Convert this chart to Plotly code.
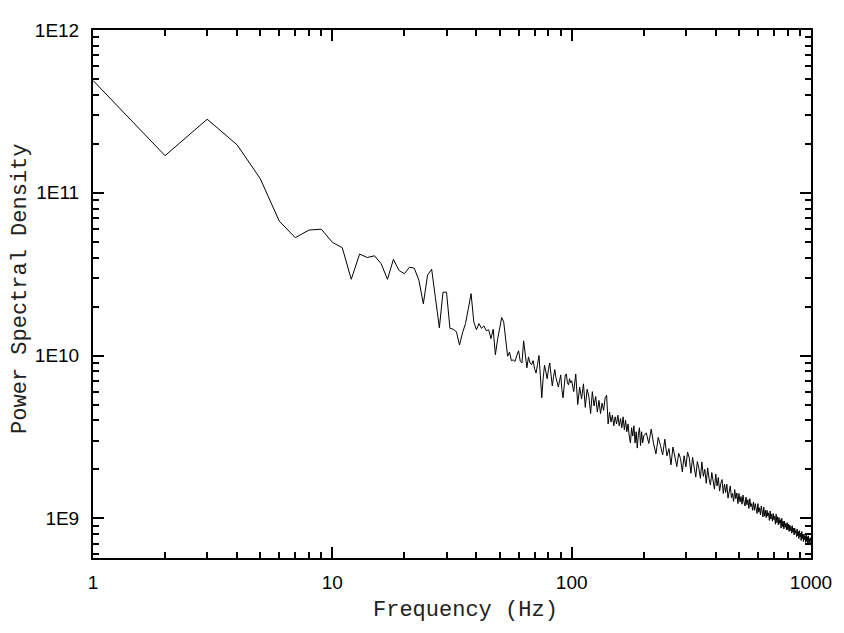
import plotly.graph_objects as go

# frequency grid (Hz)
freq_low = list(range(1, 101))
freq_mid = list(range(102, 201, 2))
freq_high = list(range(205, 1001, 5))

# PSD, 1..100 Hz
psd_low = [
    4.9e11, 1.69e11, 2.83e11, 1.97e11, 1.22e11, 6.7e10, 5.3e10, 5.9e10, 5.97e10, 4.96e10,
    4.6e10, 2.94e10, 4.2e10, 4.0e10, 4.1e10, 3.66e10, 2.94e10, 3.9e10, 3.33e10, 3.18e10,
    3.49e10, 3.44e10, 2.9e10, 2.08e10, 3.12e10, 3.39e10, 2.23e10, 1.48e10, 2.45e10, 2.45e10,
    1.47e10, 1.45e10, 1.4e10, 1.16e10, 1.38e10, 1.57e10, 1.94e10, 2.4e10, 1.61e10, 1.44e10,
    1.57e10, 1.47e10, 1.52e10, 1.42e10, 1.44e10, 1.27e10, 1.45e10, 1.01e10, 1.25e10, 1.45e10,
    1.71e10, 1.61e10, 1.27e10, 9.9e9, 1.05e10, 9.3e9, 9.4e9, 9.2e9, 1.0e10, 1.07e10,
    9.2e9, 9.0e9, 1.23e10, 1.05e10, 8.4e9, 9.8e9, 9.0e9, 8.8e9, 9.3e9, 8.3e9,
    7.8e9, 8.8e9, 1.0e10, 7.5e9, 5.5e9, 7.2e9, 8.7e9, 8.0e9, 7.2e9, 8.2e9,
    9.0e9, 7.6e9, 6.5e9, 7.4e9, 8.2e9, 7.3e9, 6.8e9, 6.4e9, 7.0e9, 7.6e9,
    6.2e9, 5.5e9, 6.4e9, 7.6e9, 7.7e9, 6.8e9, 6.6e9, 7.2e9, 6.8e9, 7.0e9,
]

# 102..200 Hz, step 2 (units of 1e9)
psd_mid_e9 = [
    6.0, 7.7, 5.0, 6.4, 5.4, 6.7, 4.8, 6.2, 5.6, 4.4,
    6.0, 4.9, 5.6, 4.5, 5.3, 4.4, 5.1, 4.6, 5.5, 5.7,
    3.8, 4.5, 3.9, 4.3, 3.7, 4.2, 3.8, 4.3, 3.7, 4.1,
    3.6, 4.2, 3.5, 4.0, 3.4, 3.8, 3.2, 2.9, 3.6, 3.2,
    3.7, 2.9, 3.4, 2.7, 3.3, 3.6, 2.8, 3.4, 2.9, 3.2,
]

# 205..1000 Hz, step 5 (units of 1e9)
psd_high_e9 = [
    3.35, 2.88, 3.53, 2.86, 2.49, 3.14, 2.8, 2.45, 3.06, 2.42,
    2.68, 2.13, 2.74, 2.33, 2.08, 2.51, 2.33, 1.93, 2.42, 2.07,
    2.55, 2.35, 1.89, 2.37, 2.0, 1.79, 2.23, 2.03, 1.76, 2.22,
    1.81, 2.0, 1.64, 2.04, 1.75, 1.6, 1.91, 1.7, 1.51, 1.87,
    1.58, 1.78, 1.47, 1.64, 1.73, 1.42, 1.62, 1.44, 1.62, 1.33,
    1.51, 1.58, 1.34, 1.42, 1.27, 1.5, 1.32, 1.43, 1.23, 1.42,
    1.26, 1.36, 1.22, 1.39, 1.26, 1.19, 1.35, 1.21, 1.3, 1.15,
    1.32, 1.18, 1.23, 1.12, 1.26, 1.12, 1.23, 1.14, 1.07, 1.23,
    1.09, 1.16, 1.05, 1.19, 1.1, 1.02, 1.17, 1.03, 1.12, 1.01,
    1.12, 1.03, 1.08, 0.97, 1.11, 0.99, 1.06, 0.96, 1.07, 0.98,
    1.03, 0.92, 1.06, 0.94, 1.02, 0.91, 1.01, 0.93, 0.98, 0.87,
    1.0, 0.89, 0.96, 0.86, 0.96, 0.88, 0.93, 0.85, 0.94, 0.85,
    0.92, 0.83, 0.91, 0.84, 0.89, 0.81, 0.9, 0.82, 0.87, 0.79,
    0.87, 0.81, 0.84, 0.77, 0.86, 0.78, 0.83, 0.75, 0.84, 0.77,
    0.81, 0.73, 0.83, 0.75, 0.8, 0.72, 0.8, 0.74, 0.78, 0.71,
    0.8, 0.72, 0.77, 0.7, 0.78, 0.71, 0.75, 0.69, 0.76, 0.72,
]

x_ticks = [1, 10, 100, 1000]
x_ticktext = ['1', '10', '100', '1000']
y_ticks = [1e9, 1e10, 1e11, 1e12]
y_ticktext = ['1E9', '1E10', '1E11', '1E12']

freq = freq_low + freq_mid + freq_high
psd = psd_low + [v * 1e9 for v in psd_mid_e9] + [v * 1e9 for v in psd_high_e9]

x_minor = [m * d for d in (1, 10, 100) for m in range(2, 10)]
y_minor = [m * d for d in (1e8, 1e9, 1e10, 1e11) for m in range(2, 10)]

fig = go.Figure()
fig.add_trace(go.Scatter(x=freq, y=psd, mode='lines',
                         line=dict(color='black', width=1), showlegend=False))

axis_common = dict(
    type='log', showgrid=False, zeroline=False,
    showline=True, linecolor='black', linewidth=2, mirror='allticks',
    ticks='inside', ticklen=11, tickwidth=2, tickcolor='black',
    tickfont=dict(family='Liberation Sans Narrow, Liberation Sans', size=19, color='black'),
)

fig.update_xaxes(
    **axis_common,
    range=[0, 3],
    tickvals=x_ticks, ticktext=x_ticktext, ticklabelstandoff=6,
    minor=dict(ticks='inside', ticklen=6, tickwidth=1.5, tickcolor='black', tickvals=x_minor),
)
fig.update_yaxes(
    **axis_common,
    range=[8.756, 12],
    tickvals=y_ticks, ticktext=y_ticktext, ticklabelstandoff=8,
    minor=dict(ticks='inside', ticklen=6, tickwidth=1.5, tickcolor='black', tickvals=y_minor),
)

title_font = dict(family='Liberation Mono', size=22, color='#222')
fig.add_annotation(text='Frequency (Hz)', xref='paper', yref='paper',
                   x=0.519, y=-0.0996, xanchor='center', yanchor='middle',
                   showarrow=False, font=title_font)
fig.add_annotation(text='Power Spectral Density', xref='paper', yref='paper',
                   x=-0.1, y=0.51, xanchor='center', yanchor='middle',
                   textangle=-90, showarrow=False, font=title_font)

fig.update_layout(
    width=836, height=625,
    margin=dict(l=85, r=31, t=18, b=75),
    plot_bgcolor='white', paper_bgcolor='white',
)

fig.write_html("out.html")
